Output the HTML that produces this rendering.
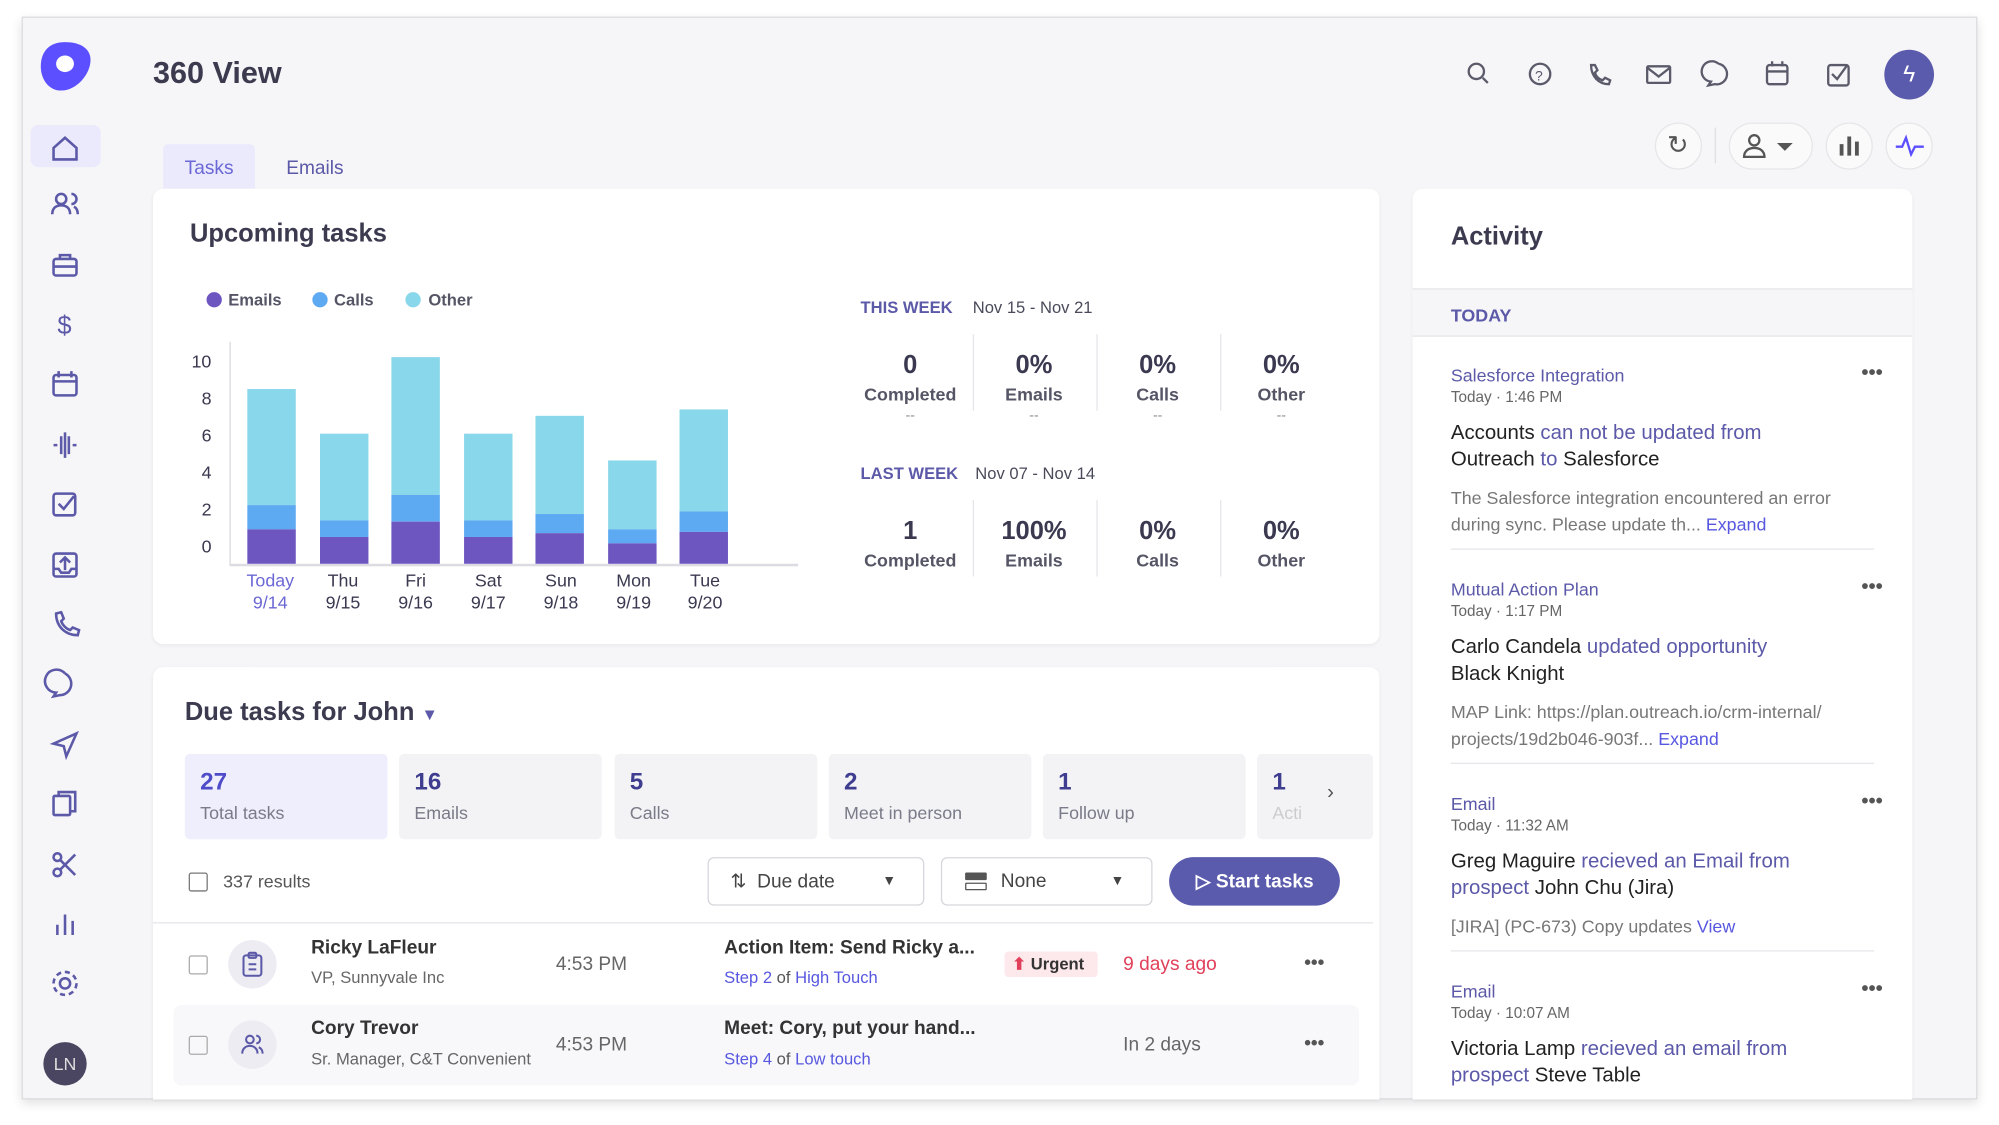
<!DOCTYPE html>
<html><head><meta charset="utf-8"><style>
*{box-sizing:border-box;margin:0;padding:0}
body{width:1999px;height:1125px;background:#fff;overflow:hidden;font-family:"Liberation Sans",sans-serif;color:#3b3950}
#w{position:absolute;left:0;top:0;width:1568px;height:882px;transform:scale(1.2749,1.2755);transform-origin:0 0}
.a{position:absolute}
.app{left:17px;top:13px;width:1534px;height:849px;background:#f6f5f7;border:1px solid #dcdce0;box-shadow:0 3px 8px rgba(0,0,0,.12)}
.card{background:#fff;border-radius:8px;box-shadow:0 1px 3px rgba(0,0,0,.06)}
.t{position:absolute;white-space:nowrap;transform:translateY(-50%)}
.c{text-align:center;transform:translate(-50%,-50%)}
.bar{position:absolute;width:38px}
.tile{position:absolute;top:591px;height:67px;width:159px;background:#f3f3f6;border-radius:4px}
.tile b{position:absolute;left:12px;top:12px;font-size:19px;color:#3f3d8f}
.tile span{position:absolute;left:12px;top:38px;font-size:14px;color:#7a7a88}
.lnk{color:#5757e0}
.pur{color:#5b59a8}
</style></head><body><div id="w">
<div class="a app"></div>
<svg class="a" style="left:29px;top:31px" width="44" height="42" viewBox="0 0 44 42"><path d="M22 2C34 2 42 7 42 16 42 27 31 40 19 40 9 40 3 31 3 21 3 9 10 2 22 2Z" fill="#5b4fff"/><ellipse cx="22" cy="19" rx="7" ry="6.5" fill="#fff"/></svg>
<div class="t" style="left:120px;top:58px;font-size:24px;font-weight:bold;color:#3c3a4f">360 View</div>
<div class="a" style="left:24px;top:98px;width:55px;height:33px;background:#ebeafc;border-radius:6px"></div>
<svg class="a" style="left:0;top:0" width="100" height="882" fill="none" stroke="#5b59a8" stroke-width="2">
<path d="M42 116l9-8 9 8v9H42z"/>
<circle cx="48" cy="156" r="4"/><path d="M41 168c0-5 3-7 7-7s7 2 7 7M56 152a4 4 0 010 8M58 162c2 1 3 3 3 6"/>
<rect x="42" y="203" width="18" height="13" rx="2"/><path d="M47 203v-3h8v3M42 209h18"/>
<text x="45" y="262" font-size="20" fill="#5b59a8" stroke="none" font-family="Liberation Sans">$</text>
<rect x="42" y="294" width="18" height="16" rx="2"/><path d="M42 299h18M46 291v5M56 291v5"/>
<path d="M42 349h3M48 342v14M51 339v20M54 342v14M57 349h3"/>
<rect x="42" y="387" width="17" height="17" rx="2"/><path d="M46 395l4 4 8-10"/>
<rect x="42" y="434" width="18" height="18" rx="2"/><path d="M51 447v-9M47 441l4-4 4 4M42 446h4l2 3h6l2-3h4"/>
<path d="M44 481c0 10 7 17 17 17l1-4-5-2-2 2c-3-1-6-4-7-7l2-2-2-5z"/>
<path d="M51 528a9 9 0 10-7 15l-2 3 5-1a9 9 0 004-17"/>
<path d="M60 575l-18 8 8 2 2 8z"/>
<rect x="42" y="624" width="13" height="15" rx="1"/><path d="M46 624v-3h13v15h-4"/>
<circle cx="45" cy="672" r="3"/><circle cx="45" cy="684" r="3"/><path d="M47 674l12 12M47 682l12-12"/>
<path d="M45 733v-8M51 733v-16M57 733v-11"/>
<circle cx="51" cy="771" r="4"/><circle cx="51" cy="771" r="9" stroke-dasharray="4 3"/>
</svg>
<div class="a" style="left:34px;top:817px;width:34px;height:34px;border-radius:50%;background:#4a4560;color:#ddd;font-size:14px;text-align:center;line-height:34px">LN</div>
<svg class="a" style="left:1140px;top:40px" width="320" height="100" fill="none" stroke="#5a5a6a" stroke-width="1.8">
<circle cx="18" cy="16" r="6"/><path d="M23 21l4 4"/>
<circle cx="68" cy="18" r="8"/><text x="64" y="23" font-size="11" fill="#5a5a6a" stroke="none" font-family="Liberation Sans">?</text>
<path d="M108 11c0 9 6 15 14 15l1-3-4-2-2 2c-3-1-5-3-6-6l2-2-2-4z"/>
<rect x="152" y="12" width="18" height="13" rx="1"/><path d="M152 13l9 7 9-7"/>
<path d="M208 10a8 8 0 10-6 14l-2 3 5-1a8 8 0 003-16"/>
<rect x="246" y="11" width="16" height="15" rx="2"/><path d="M246 16h16M250 8v4M258 8v4"/>
<rect x="294" y="11" width="16" height="16" rx="2"/><path d="M297 18l4 4 8-11"/>
</svg>
<div class="a" style="left:1478px;top:39px;width:39px;height:39px;border-radius:50%;background:#5b5bad;color:#fff;text-align:center;line-height:39px;font-size:18px">ϟ</div>
<div class="a" style="left:1298px;top:96px;width:37px;height:37px;border-radius:50%;background:#fafafa;border:1px solid #e6e6ea"></div>
<div class="t c" style="left:1316px;top:114px;font-size:20px;color:#555">↻</div>
<div class="a" style="left:1345px;top:100px;width:1px;height:28px;background:#e0e0e4"></div>
<div class="a" style="left:1356px;top:96px;width:66px;height:37px;border-radius:19px;background:#fafafa;border:1px solid #e6e6ea"></div>
<svg class="a" style="left:1366px;top:104px" width="46" height="22" fill="none" stroke="#555" stroke-width="1.8"><circle cx="10" cy="6" r="4"/><path d="M2 19c0-5 4-7 8-7s8 2 8 7z"/><path d="M30 9h8l-4 4z" fill="#555"/></svg>
<div class="a" style="left:1432px;top:96px;width:37px;height:37px;border-radius:50%;background:#fafafa;border:1px solid #e6e6ea"></div>
<svg class="a" style="left:1441px;top:104px" width="20" height="20" fill="#555"><rect x="2" y="9" width="3" height="9"/><rect x="8" y="3" width="3" height="15"/><rect x="14" y="7" width="3" height="11"/></svg>
<div class="a" style="left:1479px;top:96px;width:37px;height:37px;border-radius:50%;background:#fafafa;border:1px solid #e6e6ea"></div>
<svg class="a" style="left:1486px;top:105px" width="24" height="18" fill="none" stroke="#5b4fff" stroke-width="1.8"><path d="M1 10h5l3-7 4 13 3-6h7"/></svg>
<div class="a" style="left:128px;top:113px;width:72px;height:35px;background:#ebeafc;border-radius:4px 4px 0 0"></div>
<div class="t c" style="left:164px;top:132px;font-size:15px;color:#6b68d6">Tasks</div>
<div class="t c" style="left:247px;top:132px;font-size:15px;color:#5b59a8">Emails</div>
<div class="a card" style="left:120px;top:148px;width:962px;height:357px"></div>
<div class="t" style="left:149px;top:184px;font-size:20px;font-weight:bold;color:#3c3a4f">Upcoming tasks</div>
<div class="a" style="left:162px;top:229px;width:12px;height:12px;border-radius:50%;background:#6e56c0"></div>
<div class="t" style="left:179px;top:235px;font-size:13px;font-weight:bold;color:#555566">Emails</div>
<div class="a" style="left:245px;top:229px;width:12px;height:12px;border-radius:50%;background:#5eaaf2"></div>
<div class="t" style="left:262px;top:235px;font-size:13px;font-weight:bold;color:#555566">Calls</div>
<div class="a" style="left:318px;top:229px;width:12px;height:12px;border-radius:50%;background:#89d7ea"></div>
<div class="t" style="left:336px;top:235px;font-size:13px;font-weight:bold;color:#555566">Other</div>
<div class="a" style="left:180px;top:268px;width:1px;height:175px;background:#d8d8de"></div>
<div class="a" style="left:180px;top:442px;width:446px;height:2px;background:#dcdce2"></div>
<div class="t c" style="left:158px;top:283px;font-size:14px">10</div>
<div class="t c" style="left:162px;top:312px;font-size:14px">8</div>
<div class="t c" style="left:162px;top:341px;font-size:14px">6</div>
<div class="t c" style="left:162px;top:370px;font-size:14px">4</div>
<div class="t c" style="left:162px;top:399px;font-size:14px">2</div>
<div class="t c" style="left:162px;top:428px;font-size:14px">0</div>
<div class="bar" style="left:194px;top:305px;height:91px;background:#89d7ea"></div><div class="bar" style="left:194px;top:396px;height:19px;background:#5eaaf2"></div><div class="bar" style="left:194px;top:415px;height:27px;background:#6e56c0"></div>
<div class="bar" style="left:251px;top:340px;height:68px;background:#89d7ea"></div><div class="bar" style="left:251px;top:408px;height:13px;background:#5eaaf2"></div><div class="bar" style="left:251px;top:421px;height:21px;background:#6e56c0"></div>
<div class="bar" style="left:307px;top:280px;height:108px;background:#89d7ea"></div><div class="bar" style="left:307px;top:388px;height:21px;background:#5eaaf2"></div><div class="bar" style="left:307px;top:409px;height:33px;background:#6e56c0"></div>
<div class="bar" style="left:364px;top:340px;height:68px;background:#89d7ea"></div><div class="bar" style="left:364px;top:408px;height:13px;background:#5eaaf2"></div><div class="bar" style="left:364px;top:421px;height:21px;background:#6e56c0"></div>
<div class="bar" style="left:420px;top:326px;height:77px;background:#89d7ea"></div><div class="bar" style="left:420px;top:403px;height:15px;background:#5eaaf2"></div><div class="bar" style="left:420px;top:418px;height:24px;background:#6e56c0"></div>
<div class="bar" style="left:477px;top:361px;height:54px;background:#89d7ea"></div><div class="bar" style="left:477px;top:415px;height:11px;background:#5eaaf2"></div><div class="bar" style="left:477px;top:426px;height:16px;background:#6e56c0"></div>
<div class="bar" style="left:533px;top:321px;height:80px;background:#89d7ea"></div><div class="bar" style="left:533px;top:401px;height:16px;background:#5eaaf2"></div><div class="bar" style="left:533px;top:417px;height:25px;background:#6e56c0"></div>
<div class="t c" style="left:212px;top:464px;font-size:14px;line-height:17px;color:#6b68d6">Today<br>9/14</div>
<div class="t c" style="left:269px;top:464px;font-size:14px;line-height:17px">Thu<br>9/15</div>
<div class="t c" style="left:326px;top:464px;font-size:14px;line-height:17px">Fri<br>9/16</div>
<div class="t c" style="left:383px;top:464px;font-size:14px;line-height:17px">Sat<br>9/17</div>
<div class="t c" style="left:440px;top:464px;font-size:14px;line-height:17px">Sun<br>9/18</div>
<div class="t c" style="left:497px;top:464px;font-size:14px;line-height:17px">Mon<br>9/19</div>
<div class="t c" style="left:553px;top:464px;font-size:14px;line-height:17px">Tue<br>9/20</div>
<div class="t" style="left:675px;top:241px;font-size:13px;font-weight:bold;color:#5b59a8">THIS WEEK</div>
<div class="t" style="left:763px;top:241px;font-size:13px;color:#4a4a5a">Nov 15 - Nov 21</div>
<div class="t" style="left:675px;top:371px;font-size:13px;font-weight:bold;color:#5b59a8">LAST WEEK</div>
<div class="t" style="left:765px;top:371px;font-size:13px;color:#4a4a5a">Nov 07 - Nov 14</div>
<div class="a" style="left:763px;top:262px;width:1px;height:60px;background:#e6e6ea"></div><div class="a" style="left:860px;top:262px;width:1px;height:60px;background:#e6e6ea"></div><div class="a" style="left:957px;top:262px;width:1px;height:60px;background:#e6e6ea"></div>
<div class="a" style="left:763px;top:392px;width:1px;height:60px;background:#e6e6ea"></div><div class="a" style="left:860px;top:392px;width:1px;height:60px;background:#e6e6ea"></div><div class="a" style="left:957px;top:392px;width:1px;height:60px;background:#e6e6ea"></div>
<div class="t c" style="left:714px;top:287px;font-size:20px;font-weight:bold">0</div><div class="t c" style="left:714px;top:309px;font-size:14px;font-weight:bold;color:#555566">Completed</div><div class="t c" style="left:714px;top:326px;font-size:11px;color:#888">--</div>
<div class="t c" style="left:811px;top:287px;font-size:20px;font-weight:bold">0%</div><div class="t c" style="left:811px;top:309px;font-size:14px;font-weight:bold;color:#555566">Emails</div><div class="t c" style="left:811px;top:326px;font-size:11px;color:#888">--</div>
<div class="t c" style="left:908px;top:287px;font-size:20px;font-weight:bold">0%</div><div class="t c" style="left:908px;top:309px;font-size:14px;font-weight:bold;color:#555566">Calls</div><div class="t c" style="left:908px;top:326px;font-size:11px;color:#888">--</div>
<div class="t c" style="left:1005px;top:287px;font-size:20px;font-weight:bold">0%</div><div class="t c" style="left:1005px;top:309px;font-size:14px;font-weight:bold;color:#555566">Other</div><div class="t c" style="left:1005px;top:326px;font-size:11px;color:#888">--</div>
<div class="t c" style="left:714px;top:417px;font-size:20px;font-weight:bold">1</div><div class="t c" style="left:714px;top:439px;font-size:14px;font-weight:bold;color:#555566">Completed</div>
<div class="t c" style="left:811px;top:417px;font-size:20px;font-weight:bold">100%</div><div class="t c" style="left:811px;top:439px;font-size:14px;font-weight:bold;color:#555566">Emails</div>
<div class="t c" style="left:908px;top:417px;font-size:20px;font-weight:bold">0%</div><div class="t c" style="left:908px;top:439px;font-size:14px;font-weight:bold;color:#555566">Calls</div>
<div class="t c" style="left:1005px;top:417px;font-size:20px;font-weight:bold">0%</div><div class="t c" style="left:1005px;top:439px;font-size:14px;font-weight:bold;color:#555566">Other</div>
<div class="a card" style="left:1108px;top:148px;width:392px;height:714px;border-radius:8px 8px 0 0"></div>
<div class="t" style="left:1138px;top:186px;font-size:20px;font-weight:bold;color:#3c3a4f">Activity</div>
<div class="a" style="left:1108px;top:226px;width:392px;height:38px;background:#f6f6f8;border-top:1px solid #e6e6ea;border-bottom:1px solid #e6e6ea"></div>
<div class="t" style="left:1138px;top:247px;font-size:14px;font-weight:bold;color:#5b59a8">TODAY</div>
<div class="t pur" style="left:1138px;top:294px;font-size:14px">Salesforce Integration</div>
<div class="t" style="left:1138px;top:311px;font-size:12px;color:#666">Today · 1:46 PM</div>
<div class="t" style="left:1460px;top:293px;font-size:16px;font-weight:bold;color:#555">•••</div>
<div class="a" style="left:1138px;top:329px;font-size:16px;line-height:21px;color:#3b3950"><span style="color:#222">Accounts</span> <span class="pur">can not be updated from</span><br><span style="color:#222">Outreach</span> <span class="pur">to</span> <span style="color:#222">Salesforce</span></div>
<div class="a" style="left:1138px;top:380px;font-size:14px;line-height:21px;color:#777">The Salesforce integration encountered an error<br>during sync. Please update th... <span class="lnk">Expand</span></div>
<div class="a" style="left:1138px;top:430px;width:332px;height:1px;background:#e6e6ea"></div>
<div class="t pur" style="left:1138px;top:462px;font-size:14px">Mutual Action Plan</div>
<div class="t" style="left:1138px;top:479px;font-size:12px;color:#666">Today · 1:17 PM</div>
<div class="t" style="left:1460px;top:461px;font-size:16px;font-weight:bold;color:#555">•••</div>
<div class="a" style="left:1138px;top:497px;font-size:16px;line-height:21px;color:#222">Carlo Candela <span class="pur">updated opportunity</span><br>Black Knight</div>
<div class="a" style="left:1138px;top:548px;font-size:14px;line-height:21px;color:#777">MAP Link: https://plan.outreach.io/crm-internal/<br>projects/19d2b046-903f... <span class="lnk">Expand</span></div>
<div class="a" style="left:1138px;top:598px;width:332px;height:1px;background:#e6e6ea"></div>
<div class="t pur" style="left:1138px;top:630px;font-size:14px">Email</div>
<div class="t" style="left:1138px;top:647px;font-size:12px;color:#666">Today · 11:32 AM</div>
<div class="t" style="left:1460px;top:629px;font-size:16px;font-weight:bold;color:#555">•••</div>
<div class="a" style="left:1138px;top:665px;font-size:16px;line-height:21px;color:#222">Greg Maguire <span class="pur">recieved an Email from</span><br><span class="pur">prospect</span> John Chu (Jira)</div>
<div class="t" style="left:1138px;top:726px;font-size:14px;color:#777">[JIRA] (PC-673) Copy updates <span class="lnk">View</span></div>
<div class="a" style="left:1138px;top:745px;width:332px;height:1px;background:#e6e6ea"></div>
<div class="t pur" style="left:1138px;top:777px;font-size:14px">Email</div>
<div class="t" style="left:1138px;top:794px;font-size:12px;color:#666">Today · 10:07 AM</div>
<div class="t" style="left:1460px;top:776px;font-size:16px;font-weight:bold;color:#555">•••</div>
<div class="a" style="left:1138px;top:812px;font-size:16px;line-height:21px;color:#222">Victoria Lamp <span class="pur">recieved an email from</span><br><span class="pur">prospect</span> Steve Table</div>
<div class="a card" style="left:120px;top:523px;width:962px;height:339px;border-radius:8px 8px 0 0"></div>
<div class="t" style="left:145px;top:559px;font-size:20px;font-weight:bold;color:#3c3a4f">Due tasks for John <span style="font-size:13px;color:#5b59a8">▼</span></div>
<div class="tile" style="left:145px;background:#eeeefc"><b style="color:#4f4cc9">27</b><span>Total tasks</span></div>
<div class="tile" style="left:313px"><b>16</b><span>Emails</span></div>
<div class="tile" style="left:482px"><b>5</b><span>Calls</span></div>
<div class="tile" style="left:650px"><b>2</b><span>Meet in person</span></div>
<div class="tile" style="left:818px"><b>1</b><span>Follow up</span></div>
<div class="tile" style="left:986px;width:91px"><b>1</b><span style="color:#ccc">Acti</span><i style="position:absolute;left:55px;top:22px;font-style:normal;color:#555;font-size:16px">›</i></div>
<div class="a" style="left:148px;top:684px;width:15px;height:15px;border:1.5px solid #777;border-radius:2px"></div>
<div class="t" style="left:175px;top:691px;font-size:14px;color:#555">337 results</div>
<div class="a" style="left:555px;top:672px;width:170px;height:38px;border:1px solid #d6d6dc;border-radius:5px;background:#fff"></div>
<div class="t" style="left:573px;top:691px;font-size:15px;color:#444">⇅&nbsp; Due date</div><div class="t" style="left:692px;top:691px;font-size:11px;color:#444">▼</div>
<div class="a" style="left:738px;top:672px;width:166px;height:38px;border:1px solid #d6d6dc;border-radius:5px;background:#fff"></div>
<div class="a" style="left:757px;top:684px;width:17px;height:6px;background:#555;border-radius:1px"></div><div class="a" style="left:757px;top:692px;width:17px;height:6px;border:1.5px solid #555;border-radius:1px"></div>
<div class="t" style="left:785px;top:691px;font-size:15px;color:#444">None</div><div class="t" style="left:871px;top:691px;font-size:11px;color:#444">▼</div>
<div class="a" style="left:917px;top:672px;width:134px;height:38px;border-radius:19px;background:#5b5bad"></div>
<div class="t" style="left:938px;top:691px;font-size:15px;color:#fff;font-weight:bold">▷ Start tasks</div>
<div class="a" style="left:120px;top:723px;width:957px;height:1px;background:#e6e6ea"></div>
<div class="a" style="left:148px;top:749px;width:15px;height:15px;border:1.5px solid #aaa;border-radius:2px"></div>
<div class="a" style="left:179px;top:737px;width:38px;height:38px;border-radius:50%;background:#ececf2"></div>
<svg class="a" style="left:189px;top:746px" width="18" height="20" fill="none" stroke="#5b59a8" stroke-width="1.6"><rect x="2" y="3" width="14" height="16" rx="2"/><rect x="6" y="1" width="6" height="4" rx="1"/><path d="M6 10h6M6 14h6"/></svg>
<div class="t" style="left:244px;top:743px;font-size:15px;font-weight:bold;color:#333">Ricky LaFleur</div>
<div class="t" style="left:244px;top:766px;font-size:13px;color:#666">VP, Sunnyvale Inc</div>
<div class="t" style="left:436px;top:756px;font-size:15px;color:#666">4:53 PM</div>
<div class="t" style="left:568px;top:743px;font-size:15px;font-weight:bold;color:#333">Action Item: Send Ricky a...</div>
<div class="t" style="left:568px;top:766px;font-size:13px;color:#555"><span class="lnk">Step 2</span> of <span class="lnk">High Touch</span></div>
<div class="a" style="left:788px;top:746px;width:73px;height:20px;background:#fde8ec;border-radius:3px"></div>
<div class="t" style="left:794px;top:756px;font-size:13px;font-weight:bold;color:#333"><span style="color:#e0405a">⬆</span> Urgent</div>
<div class="t" style="left:881px;top:756px;font-size:15px;color:#e0405a">9 days ago</div>
<div class="t" style="left:1023px;top:755px;font-size:15px;font-weight:bold;color:#555">•••</div>
<div class="a" style="left:136px;top:788px;width:930px;height:63px;background:#f8f8fa;border-radius:6px"></div>
<div class="a" style="left:148px;top:812px;width:15px;height:15px;border:1.5px solid #aaa;border-radius:2px"></div>
<div class="a" style="left:179px;top:800px;width:38px;height:38px;border-radius:50%;background:#ececf2"></div>
<svg class="a" style="left:189px;top:810px" width="18" height="18" fill="none" stroke="#5b59a8" stroke-width="1.6"><circle cx="7" cy="5" r="3"/><path d="M1 16c0-4 3-6 6-6s6 2 6 6M12 2a3 3 0 010 6M14 11c2 1 3 3 3 5"/></svg>
<div class="t" style="left:244px;top:806px;font-size:15px;font-weight:bold;color:#333">Cory Trevor</div>
<div class="t" style="left:244px;top:830px;font-size:13px;color:#666">Sr. Manager, C&amp;T Convenient</div>
<div class="t" style="left:436px;top:819px;font-size:15px;color:#666">4:53 PM</div>
<div class="t" style="left:568px;top:806px;font-size:15px;font-weight:bold;color:#333">Meet: Cory, put your hand...</div>
<div class="t" style="left:568px;top:830px;font-size:13px;color:#555"><span class="lnk">Step 4</span> of <span class="lnk">Low touch</span></div>
<div class="t" style="left:881px;top:819px;font-size:15px;color:#666">In 2 days</div>
<div class="t" style="left:1023px;top:818px;font-size:15px;font-weight:bold;color:#555">•••</div>
</div></body></html>
